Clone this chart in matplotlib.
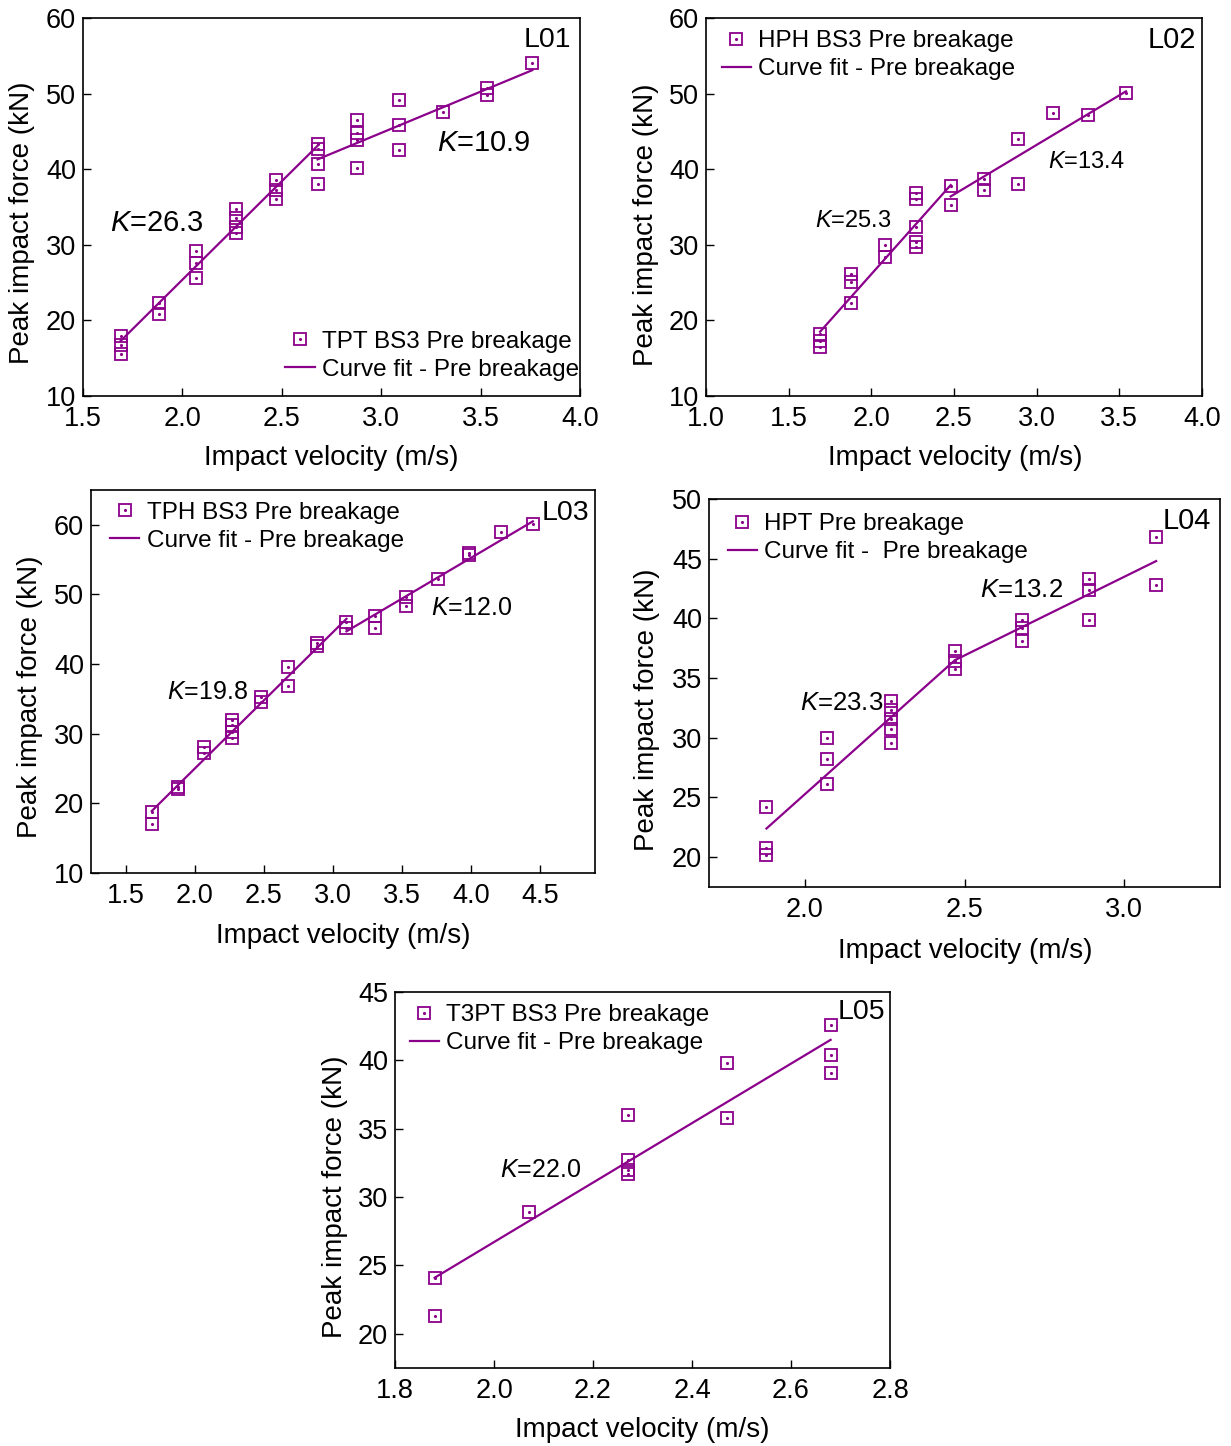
import numpy as np
import matplotlib
matplotlib.use("Agg")
import matplotlib.pyplot as plt

plt.rcParams['font.family'] = ['Liberation Sans', 'DejaVu Sans']
plt.rcParams['mathtext.fontset'] = 'custom'
plt.rcParams['mathtext.it'] = 'Liberation Sans:italic'
plt.rcParams['mathtext.rm'] = 'Liberation Sans'

PURPLE = '#8B008B'

# ---- L01: TPT BS3 ----
v1 = [1.69, 1.69, 1.69, 1.88, 1.88, 2.07, 2.07, 2.07, 2.27, 2.27, 2.27, 2.27,
      2.47, 2.47, 2.47, 2.68, 2.68, 2.68, 2.68, 2.88, 2.88, 2.88, 2.88,
      3.09, 3.09, 3.09, 3.31, 3.53, 3.53, 3.76]
f1 = [18.0, 16.8, 15.5, 22.3, 20.9, 29.2, 27.6, 25.6, 34.8, 33.6, 32.4, 31.5,
      38.6, 37.2, 36.0, 43.3, 42.7, 40.7, 38.1, 46.5, 44.8, 43.8, 40.1,
      49.2, 45.8, 42.5, 47.6, 50.8, 49.8, 54.1]
fit1a_v, fit1a_f = [1.69, 2.68], [17.3, 43.1]
fit1b_v, fit1b_f = [2.68, 3.76], [41.3, 53.1]

# ---- L02: HPH BS3 ----
v2 = [1.69, 1.69, 1.69, 1.88, 1.88, 1.88, 2.08, 2.08, 2.27, 2.27, 2.27, 2.27, 2.27,
      2.48, 2.48, 2.68, 2.68, 2.89, 2.89, 3.10, 3.31, 3.54]
f2 = [18.2, 17.3, 16.5, 26.2, 25.1, 22.3, 30.0, 28.4, 36.8, 36.1, 32.3, 30.4, 29.7,
      37.8, 35.3, 38.7, 37.3, 44.0, 38.1, 47.4, 47.2, 50.1]
fit2a_v, fit2a_f = [1.69, 2.48], [18.5, 37.9]
fit2b_v, fit2b_f = [2.48, 3.54], [36.4, 50.3]

# ---- L03: TPH BS3 ----
v3 = [1.69, 1.69, 1.88, 1.88, 2.07, 2.07, 2.27, 2.27, 2.27, 2.27, 2.48, 2.48,
      2.68, 2.68, 2.89, 2.89, 3.10, 3.10, 3.31, 3.31, 3.53, 3.53, 3.76, 3.99, 3.99,
      4.22, 4.45]
f3 = [18.8, 17.0, 22.4, 22.0, 28.1, 27.2, 32.0, 31.3, 30.3, 29.4, 35.3, 34.6,
      39.6, 36.8, 43.0, 42.6, 46.1, 45.2, 46.9, 45.2, 49.6, 48.3, 52.2, 55.9, 55.6,
      59.0, 60.1]
fit3a_v, fit3a_f = [1.69, 3.10], [18.9, 46.5]
fit3b_v, fit3b_f = [3.10, 4.45], [44.7, 60.5]

# ---- L04: HPT ----
v4 = [1.88, 1.88, 1.88, 2.07, 2.07, 2.07, 2.27, 2.27, 2.27, 2.27, 2.27,
      2.47, 2.47, 2.47, 2.68, 2.68, 2.68, 2.89, 2.89, 2.89, 3.10, 3.10]
f4 = [24.2, 20.8, 20.2, 30.0, 28.2, 26.1, 33.1, 32.3, 31.6, 30.7, 29.6,
      37.3, 36.4, 35.8, 39.9, 39.2, 38.1, 43.3, 42.4, 39.9, 46.8, 42.8]
fit4_v, fit4_f = [1.88, 2.47, 3.10], [22.4, 36.5, 44.8]

# ---- L05: T3PT BS3 ----
v5 = [1.88, 1.88, 2.07, 2.27, 2.27, 2.27, 2.27, 2.47, 2.47, 2.68, 2.68, 2.68]
f5 = [24.1, 21.3, 28.9, 36.0, 32.7, 32.0, 31.7, 39.8, 35.8, 42.6, 40.4, 39.1]
fit5_v, fit5_f = [1.88, 2.68], [24.1, 41.5]

W, H = 1231, 1446
fig = plt.figure(figsize=(W / 100, H / 100), dpi=100)


def make_ax(l, r, t, b):
    return fig.add_axes([l / W, 1 - b / H, (r - l) / W, (b - t) / H])


def style(ax, xlim, ylim, xticks, yticks, xfmt):
    ax.set_xlim(*xlim)
    ax.set_ylim(*ylim)
    ax.set_xticks(xticks)
    ax.set_xticklabels([xfmt.format(x) for x in xticks])
    ax.set_yticks(yticks)
    ax.tick_params(direction='in', length=6, width=1, labelsize=19.5, top=False, right=False)
    ax.tick_params(axis='x', pad=7)
    ax.tick_params(axis='y', pad=5)
    for s in ax.spines.values():
        s.set_linewidth(1.2)


def draw(ax, v, f, fits):
    sq, = ax.plot(v, f, 's', ms=8.8, mfc='none', mec=PURPLE, mew=1.3, zorder=3)
    dot, = ax.plot(v, f, '.', ms=2.5, color=PURPLE, zorder=3)
    ln = None
    for fv, ff in fits:
        ln, = ax.plot(fv, ff, '-', color=PURPLE, lw=1.6, zorder=2)
    return (sq, dot), ln


def labels(ax, xl_px, yl_px, box):
    l, r, t, b = box
    ax.set_xlabel('Impact velocity (m/s)', fontsize=20, va='center')
    ax.set_ylabel('Peak impact force (kN)', fontsize=20, va='center')
    ax.xaxis.set_label_coords((xl_px[0] - l) / (r - l), (b - xl_px[1]) / (b - t))
    ax.yaxis.set_label_coords((yl_px[0] - l) / (r - l), (b - yl_px[1]) / (b - t))


leg_kw = dict(frameon=False, fontsize=17.5, handlelength=1.2, handletextpad=0.3,
              labelspacing=0.25, borderpad=0, borderaxespad=0)

# L01
box1 = (83, 580, 18, 396)
ax1 = make_ax(*box1)
style(ax1, (1.5, 4.0), (10, 60), np.arange(1.5, 4.01, 0.5), np.arange(10, 61, 10), '{:.1f}')
h, ln = draw(ax1, v1, f1, [(fit1a_v, fit1a_f), (fit1b_v, fit1b_f)])
ax1.legend([h, ln], ['TPT BS3 Pre breakage', 'Curve fit - Pre breakage'],
           loc='lower right', bbox_to_anchor=(0.998, 0.04), **leg_kw)
ax1.text(1.636, 32.9, '$K$=26.3', fontsize=21, ha='left', va='center')
ax1.text(3.28, 43.4, '$K$=10.9', fontsize=21, ha='left', va='center')
ax1.text(0.983, 0.942, 'L01', transform=ax1.transAxes, fontsize=20.5, ha='right', va='center')
labels(ax1, (331, 458), (22, 223), box1)

# L02
box2 = (706, 1202, 18, 396)
ax2 = make_ax(*box2)
style(ax2, (1.0, 4.0), (10, 60), np.arange(1.0, 4.01, 0.5), np.arange(10, 61, 10), '{:.1f}')
h, ln = draw(ax2, v2, f2, [(fit2a_v, fit2a_f), (fit2b_v, fit2b_f)])
ax2.legend([h, ln], ['HPH BS3 Pre breakage', 'Curve fit - Pre breakage'],
           loc='upper left', bbox_to_anchor=(0.032, 0.968), **leg_kw)
ax2.text(1.659, 33.1, '$K$=25.3', fontsize=17, ha='left', va='center')
ax2.text(3.07, 41.0, '$K$=13.4', fontsize=17, ha='left', va='center')
ax2.text(0.988, 0.942, 'L02', transform=ax2.transAxes, fontsize=21, ha='right', va='center')
labels(ax2, (955, 458), (646, 225), box2)

# L03
box3 = (91, 595, 490, 873)
ax3 = make_ax(*box3)
style(ax3, (1.25, 4.9), (10, 65), np.arange(1.5, 4.51, 0.5), np.arange(10, 61, 10), '{:.1f}')
h, ln = draw(ax3, v3, f3, [(fit3a_v, fit3a_f), (fit3b_v, fit3b_f)])
ax3.legend([h, ln], ['TPH BS3 Pre breakage', 'Curve fit - Pre breakage'],
           loc='upper left', bbox_to_anchor=(0.038, 0.969), **leg_kw)
ax3.text(1.804, 36.05, '$K$=19.8', fontsize=18, ha='left', va='center')
ax3.text(3.714, 48.0, '$K$=12.0', fontsize=18, ha='left', va='center')
ax3.text(0.988, 0.939, 'L03', transform=ax3.transAxes, fontsize=20.5, ha='right', va='center')
labels(ax3, (343, 936), (30, 697), box3)

# L04
box4 = (709, 1220, 499, 887)
ax4 = make_ax(*box4)
style(ax4, (1.7, 3.3), (17.5, 50), [2.0, 2.5, 3.0], np.arange(20, 51, 5), '{:.1f}')
h, ln = draw(ax4, v4, f4, [(fit4_v, fit4_f)])
ax4.legend([h, ln], ['HPT Pre breakage', 'Curve fit -  Pre breakage'],
           loc='upper left', bbox_to_anchor=(0.037, 0.963), **leg_kw)
ax4.text(1.984, 32.94, '$K$=23.3', fontsize=18.5, ha='left', va='center')
ax4.text(2.55, 42.37, '$K$=13.2', fontsize=18.5, ha='left', va='center')
ax4.text(0.982, 0.944, 'L04', transform=ax4.transAxes, fontsize=21, ha='right', va='center')
labels(ax4, (965, 951), (647, 710), box4)

# L05
box5 = (395, 890, 992, 1368)
ax5 = make_ax(*box5)
style(ax5, (1.8, 2.8), (17.5, 45), np.arange(1.8, 2.81, 0.2), np.arange(20, 46, 5), '{:.1f}')
h, ln = draw(ax5, v5, f5, [(fit5_v, fit5_f)])
ax5.legend([h, ln], ['T3PT BS3 Pre breakage', 'Curve fit - Pre breakage'],
           loc='upper left', bbox_to_anchor=(0.030, 0.968), **leg_kw)
ax5.text(2.012, 31.95, '$K$=22.0', fontsize=18, ha='left', va='center')
ax5.text(0.99, 0.948, 'L05', transform=ax5.transAxes, fontsize=20.5, ha='right', va='center')
labels(ax5, (642, 1430), (335, 1197), box5)

fig.savefig('out.png', dpi=100)
